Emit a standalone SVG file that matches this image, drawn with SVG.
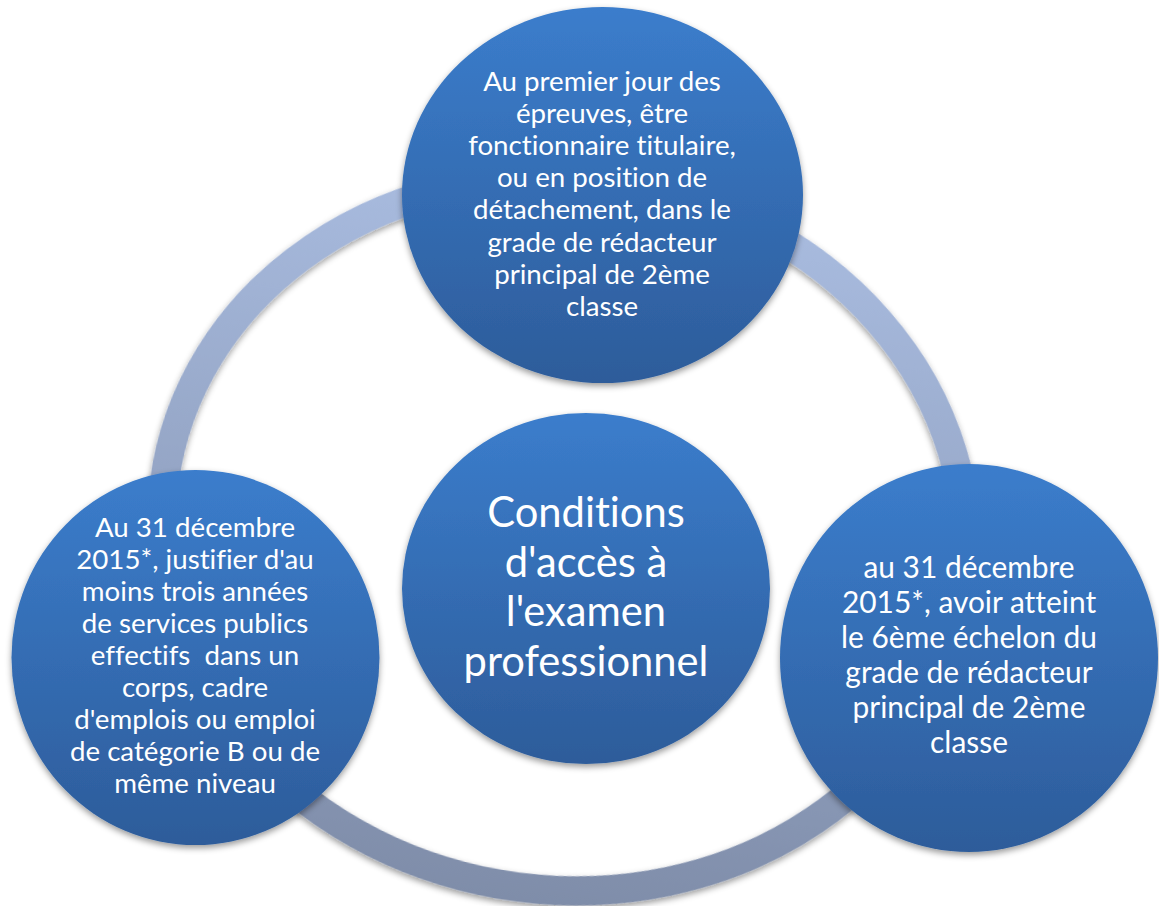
<svg xmlns="http://www.w3.org/2000/svg" width="1159" height="906" viewBox="0 0 1159 906">
<defs>
<linearGradient id="gCircle" x1="0" y1="0" x2="0" y2="1">
<stop offset="0" stop-color="#3B7DCC"/>
<stop offset="1" stop-color="#2D5C9A"/>
</linearGradient>
<linearGradient id="gRing" gradientUnits="userSpaceOnUse" x1="0" y1="175" x2="0" y2="905">
<stop offset="0" stop-color="#A9BCE0"/>
<stop offset="1" stop-color="#7F8DA9"/>
</linearGradient>
<filter id="shadow" x="-10%" y="-10%" width="120%" height="125%">
<feDropShadow dx="0" dy="3" stdDeviation="3" flood-color="#000" flood-opacity="0.4"/>
</filter>
</defs>
<style>
.node{fill:url(#gCircle);filter:url(#shadow)}
.ring{fill:none;stroke:url(#gRing);stroke-width:29;filter:url(#shadow)}
.t{font-family:Lato,"Liberation Sans",sans-serif;fill:#fff;text-anchor:middle;font-variant-ligatures:none;font-feature-settings:"liga" 0,"dlig" 0}
.s{font-size:27.7px}
.r{font-size:29.9px}
.c{font-size:41.7px}
</style>
<rect width="1159" height="906" fill="#fff"/>
<g id="connectors">
<ellipse class="ring" cx="564" cy="534" rx="403" ry="356" transform="rotate(7.45 564 534)"/>
</g>
<g id="node-top">
<ellipse class="node" cx="602.5" cy="195" rx="200.5" ry="188"/>
<text class="t s"><tspan x="602" y="91">Au premier jour des</tspan><tspan x="602" y="123.1">épreuves, être</tspan><tspan x="602" y="155.2">fonctionnaire titulaire,</tspan><tspan x="602" y="187.3">ou en position de</tspan><tspan x="602" y="219.4">détachement, dans le</tspan><tspan x="602" y="251.5">grade de rédacteur</tspan><tspan x="602" y="283.6">principal de 2ème</tspan><tspan x="602" y="315.7">classe</tspan></text>
</g>
<g id="node-left">
<ellipse class="node" cx="195.5" cy="657.5" rx="184" ry="187.5"/>
<text class="t s"><tspan x="195" y="536.5">Au 31 décembre</tspan><tspan x="195" y="568.6">2015*, justifier d'au</tspan><tspan x="195" y="600.7">moins trois années</tspan><tspan x="195" y="632.8">de services publics</tspan><tspan x="195" y="664.9">effectifs&#160; dans un</tspan><tspan x="195" y="697">corps, cadre</tspan><tspan x="195" y="729.1">d'emplois ou emploi</tspan><tspan x="195" y="761.2">de catégorie B ou de</tspan><tspan x="195" y="793.3">même niveau</tspan></text>
</g>
<g id="node-right">
<ellipse class="node" cx="969" cy="658" rx="189" ry="194"/>
<text class="t r"><tspan x="969" y="578">au 31 décembre</tspan><tspan x="969" y="613">2015*, avoir atteint</tspan><tspan x="969" y="648">le 6ème échelon du</tspan><tspan x="969" y="683">grade de rédacteur</tspan><tspan x="969" y="718">principal de 2ème</tspan><tspan x="969" y="753">classe</tspan></text>
</g>
<g id="node-center">
<ellipse class="node" cx="586" cy="588.5" rx="184" ry="175.5"/>
<text class="t c"><tspan x="586" y="527">Conditions</tspan><tspan x="586" y="576.5">d'accès à</tspan><tspan x="586" y="626">l'examen</tspan><tspan x="586" y="675.5">professionnel</tspan></text>
</g>
</svg>
